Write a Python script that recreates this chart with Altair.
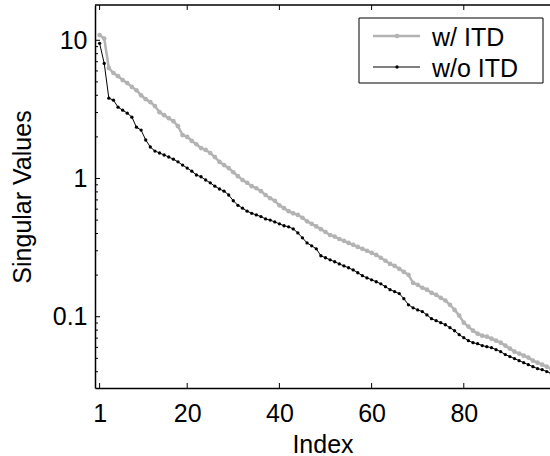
import altair as alt
import pandas as pd

# ---------------- data ----------------
index = list(range(1, 100))
with_itd = [10.9, 10.3, 6.3, 5.8, 5.5, 5.15, 4.9, 4.6, 4.35, 4.0,
            3.75, 3.57, 3.34, 3.02, 2.87, 2.73, 2.6, 2.39, 2.06, 2.0,
            1.87, 1.77, 1.66, 1.61, 1.53, 1.43, 1.32, 1.25, 1.19, 1.11,
            1.04, 0.975, 0.93, 0.88, 0.85, 0.81, 0.76, 0.72, 0.69, 0.64,
            0.61, 0.58, 0.56, 0.545, 0.52, 0.49, 0.47, 0.45, 0.43, 0.41,
            0.39, 0.38, 0.365, 0.354, 0.342, 0.331, 0.32, 0.31, 0.30, 0.29,
            0.28, 0.267, 0.254, 0.241, 0.233, 0.222, 0.211, 0.201, 0.176, 0.170,
            0.162, 0.157, 0.149, 0.144, 0.137, 0.131, 0.122, 0.112, 0.102, 0.0905,
            0.0848, 0.0792, 0.0754, 0.0729, 0.0718, 0.0694, 0.0671, 0.0649, 0.0618, 0.0588,
            0.0559, 0.0541, 0.0523, 0.0506, 0.0481, 0.0465, 0.045, 0.0435, 0.0421]
without_itd = [9.5, 6.8, 3.81, 3.69, 3.28, 3.12, 2.97, 2.78, 2.35, 2.24,
               1.90, 1.69, 1.58, 1.53, 1.48, 1.43, 1.38, 1.32, 1.25, 1.19,
               1.13, 1.06, 1.03, 0.975, 0.93, 0.88, 0.84, 0.81, 0.76, 0.69,
               0.64, 0.61, 0.58, 0.56, 0.545, 0.53, 0.51, 0.50, 0.485, 0.47,
               0.455, 0.447, 0.432, 0.404, 0.372, 0.342, 0.326, 0.31, 0.276, 0.267,
               0.258, 0.25, 0.241, 0.233, 0.226, 0.218, 0.208, 0.198, 0.191, 0.185,
               0.179, 0.173, 0.165, 0.157, 0.152, 0.147, 0.135, 0.122, 0.116, 0.112,
               0.109, 0.103, 0.0968, 0.0936, 0.0905, 0.0875, 0.0833, 0.0792, 0.0741, 0.0705,
               0.0671, 0.0649, 0.0638, 0.0618, 0.0607, 0.0597, 0.0578, 0.0559, 0.0532, 0.0515,
               0.0498, 0.0481, 0.0465, 0.045, 0.0435, 0.0421, 0.0414, 0.0401, 0.0388]
series_names = ["w/ ITD", "w/o ITD"]
x_tick_values = [1, 20, 40, 60, 80]
y_major = [0.1, 1, 10]
y_minor = [0.04, 0.05, 0.06, 0.07, 0.08, 0.09,
           0.2, 0.3, 0.4, 0.5, 0.6, 0.7, 0.8, 0.9,
           2, 3, 4, 5, 6, 7, 8, 9]

# ---------------- layout / style ----------------
W, H = 455, 383
FONT = "Liberation Sans"
FS = 25
GREY = "#b3b3b3"

xscale = alt.Scale(domain=[0, 98.7], nice=False, zero=False)
yscale = alt.Scale(type="log", domain=[0.0305, 18], nice=False)

xaxis = alt.Axis(values=x_tick_values, title="Index", ticks=False, tickSize=0,
                 domain=True, domainColor="black", domainWidth=1.5, grid=False,
                 labelFont=FONT, labelFontSize=FS, labelColor="black", labelPadding=13,
                 labelFlush=False, titleFont=FONT, titleFontSize=FS, titleFontWeight="normal",
                 titleColor="black", titleY=64, titleBaseline="alphabetic")
yaxis = alt.Axis(values=y_major, format="~g", title="Singular Values", ticks=False, tickSize=0,
                 domain=True, domainColor="black", domainWidth=1.5, grid=False,
                 labelFont=FONT, labelFontSize=FS, labelColor="black", labelPadding=8,
                 titleFont=FONT, titleFontSize=FS, titleFontWeight="normal",
                 titleColor="black", titleX=-73, titleBaseline="middle")

df_w = pd.DataFrame({"index": index, "value": with_itd})
df_wo = pd.DataFrame({"index": index, "value": without_itd})

def enc(ch):
    return ch.encode(
        x=alt.X("index:Q", scale=xscale, axis=xaxis),
        y=alt.Y("value:Q", scale=yscale, axis=yaxis),
    )

grey_line = enc(alt.Chart(df_w).mark_line(color=GREY, strokeWidth=2.5, clip=True))
grey_pts = enc(alt.Chart(df_w).mark_circle(color=GREY, size=22, opacity=1, clip=True))
black_line = enc(alt.Chart(df_wo).mark_line(color="black", strokeWidth=1, clip=True))
black_pts = enc(alt.Chart(df_wo).mark_circle(color="black", size=11, opacity=1, clip=True))

# inward ticks
xt = pd.DataFrame({"t": x_tick_values})
xticks_bottom = alt.Chart(xt).mark_rule(color="black", strokeWidth=1).encode(
    x=alt.X("t:Q", scale=xscale, axis=xaxis), y=alt.value(H), y2=alt.value(H - 5))
xticks_top = alt.Chart(xt).mark_rule(color="black", strokeWidth=1).encode(
    x=alt.X("t:Q", scale=xscale, axis=xaxis), y=alt.value(0), y2=alt.value(5))
ytm = pd.DataFrame({"v": y_major})
yticks_major = alt.Chart(ytm).mark_rule(color="black", strokeWidth=1).encode(
    y=alt.Y("v:Q", scale=yscale, axis=yaxis), x=alt.value(0), x2=alt.value(5))
ytn = pd.DataFrame({"v": y_minor})
yticks_minor = alt.Chart(ytn).mark_rule(color="black", strokeWidth=1).encode(
    y=alt.Y("v:Q", scale=yscale, axis=yaxis), x=alt.value(0), x2=alt.value(3))

one = pd.DataFrame({"k": [0]})
top_frame = alt.Chart(one).mark_rule(color="black", strokeWidth=1.5).encode(
    x=alt.value(0), x2=alt.value(W), y=alt.value(0))

# legend
leg_box = alt.Chart(one).mark_rect(fill="white", stroke="black", strokeWidth=1).encode(
    x=alt.value(264), x2=alt.value(448), y=alt.value(13), y2=alt.value(78))
leg_layers = [leg_box]
for name, col, sw, sz, yy in [(series_names[0], GREY, 2.5, 22, 31),
                              (series_names[1], "black", 1, 11, 62)]:
    d = pd.DataFrame({"label": [name]})
    leg_layers.append(alt.Chart(d).mark_rule(color=col, strokeWidth=sw).encode(
        x=alt.value(278), x2=alt.value(325), y=alt.value(yy)))
    leg_layers.append(alt.Chart(d).mark_circle(color=col, size=sz, opacity=1).encode(
        x=alt.value(302), y=alt.value(yy)))
    leg_layers.append(alt.Chart(d).mark_text(font=FONT, fontSize=FS, color="black",
                                             align="left", baseline="alphabetic").encode(
        x=alt.value(337), y=alt.value(yy + 10), text="label:N"))

chart = alt.layer(
    yticks_minor, yticks_major, xticks_bottom, xticks_top, top_frame,
    grey_line, grey_pts, black_line, black_pts, *leg_layers
).properties(
    width=W, height=H,
    autosize=alt.AutoSizeParams(type="none"),
    padding={"left": 95, "top": 5, "right": 0, "bottom": 68},
    background="white",
).configure_view(strokeWidth=0)

chart.save("out.html", embed_options={"renderer": "svg", "actions": False})
